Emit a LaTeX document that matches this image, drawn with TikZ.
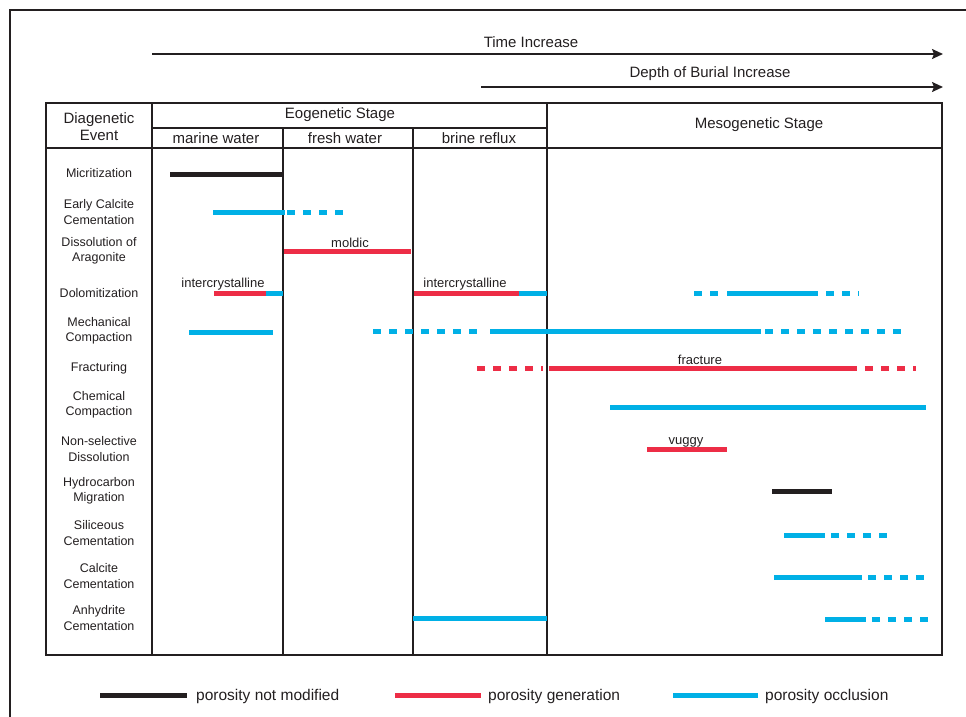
\documentclass[tikz,border=0pt]{standalone}
\usepackage{fontspec}
\setmainfont{Liberation Sans}
\usetikzlibrary{arrows.meta}
\definecolor{ink}{RGB}{35,31,32}
\definecolor{occl}{RGB}{0,176,230}
\definecolor{gener}{RGB}{237,45,70}
\tikzset{
  frame/.style={draw=ink, line width=1.8pt},
  bar/.style={line width=5pt},
  dsh/.style={line width=5pt, dash pattern=on 8pt off 8pt},
  lbl/.style={font=\fontsize{12.5}{15.5}\selectfont, align=center, text=ink, inner sep=0pt},
  hdr/.style={font=\fontsize{15}{17}\selectfont, align=center, text=ink, inner sep=0pt},
  note/.style={font=\fontsize{13}{15}\selectfont, text=ink, inner sep=0pt, anchor=base},
  legtxt/.style={font=\fontsize{15.5}{17}\selectfont, text=ink, inner sep=0pt, anchor=base west},
  trend/.style={draw=ink, line width=1.8pt, -{Stealth[length=11pt,width=10pt,inset=2pt]}},
}
\begin{document}
\begin{tikzpicture}[x=1pt,y=-1pt]
\useasboundingbox (0,0) rectangle (966,717);

% page frame
\draw[frame] (10,717) -- (10,10) -- (966,10);

% trend arrows
\coordinate (t0) at (152,54);  \coordinate (t1) at (943,54);
\coordinate (d0) at (481,87);  \coordinate (d1) at (943,87);
\draw[trend] (t0) -- (t1);
\draw[trend] (d0) -- (d1);
\node[hdr] (time) at (531,42) {Time Increase};
\node[hdr] (depth) at (710,74) {Depth of Burial Increase};

% table grid
\draw[frame] (46,103) rectangle (942,655);
\draw[frame] (46,148) -- (942,148);
\draw[frame] (152,103) -- (152,655);
\draw[frame] (547,103) -- (547,655);
\draw[frame] (152,128) -- (547,128);
\draw[frame] (283,128) -- (283,655);
\draw[frame] (413,128) -- (413,655);

% header texts
\node[hdr] (hev) at (99,127) {Diagenetic\\Event};
\node[hdr] (heo) at (340,115) {Eogenetic Stage};
\node[hdr] (hmar) at (216,138) {marine water};
\node[hdr] (hfre) at (345,138) {fresh water};
\node[hdr] (hbri) at (479,138) {brine reflux};
\node[hdr] (hmes) at (759,125) {Mesogenetic Stage};

% event names
\node[lbl] (r1) at (99,173) {Micritization};
\node[lbl] (r2) at (99,212) {Early Calcite\\Cementation};
\node[lbl] (r3) at (99,251) {Dissolution of\\Aragonite};
\node[lbl] (r4) at (99,293) {Dolomitization};
\node[lbl] (r5) at (99,331) {Mechanical\\Compaction};
\node[lbl] (r6) at (99,368) {Fracturing};
\node[lbl] (r7) at (99,405) {Chemical\\Compaction};
\node[lbl] (r8) at (99,449) {Non-selective\\Dissolution};
\node[lbl] (r9) at (99,491) {Hydrocarbon\\Migration};
\node[lbl] (r10) at (99,533) {Siliceous\\Cementation};
\node[lbl] (r11) at (99,576) {Calcite\\Cementation};
\node[lbl] (r12) at (99,618) {Anhydrite\\Cementation};

% Micritization
\draw[bar, ink] (170,174) -- (283,174);
% Early calcite cementation
\draw[bar, occl] (213,212) -- (285,212);
\draw[dsh, occl] (287,212) -- (343,212);
% Dissolution of aragonite
\draw[bar, gener] (284,251) -- (411,251);
\node[note] (moldic) at (350,247) {moldic};
% Dolomitization
\draw[bar, gener] (214,293) -- (266,293);
\draw[bar, occl] (266,293) -- (283,293);
\node[note] (ic1) at (223,287) {intercrystalline};
\draw[bar, gener] (414,293) -- (519,293);
\draw[bar, occl] (519,293) -- (547,293);
\node[note] (ic2) at (465,287) {intercrystalline};
\draw[dsh, occl] (694,293) -- (719,293);
\draw[bar, occl] (727,293) -- (818,293);
\draw[dsh, occl] (826,293) -- (859,293);
% Mechanical compaction
\draw[bar, occl] (189,332) -- (273,332);
\draw[dsh, occl] (373,331) -- (478,331);
\draw[bar, occl] (490,331) -- (761,331);
\draw[dsh, occl] (765,331) -- (901,331);
% Fracturing
\draw[dsh, gener] (477,368) -- (543,368);
\draw[bar, gener] (549,368) -- (857,368);
\draw[dsh, gener] (865,368) -- (916,368);
\node[note] (frac) at (700,364) {fracture};
% Chemical compaction
\draw[bar, occl] (610,407) -- (926,407);
% Non-selective dissolution
\draw[bar, gener] (647,449) -- (727,449);
\node[note] (vug) at (686,444) {vuggy};
% Hydrocarbon migration
\draw[bar, ink] (772,491) -- (832,491);
% Siliceous cementation
\draw[bar, occl] (784,535) -- (825,535);
\draw[dsh, occl] (831,535) -- (887,535);
% Calcite cementation
\draw[bar, occl] (774,577) -- (862,577);
\draw[dsh, occl] (868,577) -- (924,577);
% Anhydrite cementation
\draw[bar, occl] (413,618) -- (547,618);
\draw[bar, occl] (825,619) -- (866,619);
\draw[dsh, occl] (872,619) -- (928,619);

% legend
\draw[bar, ink] (100,695) -- (187,695);
\node[legtxt] (l1) at (196,700) {porosity not modified};
\draw[bar, gener] (395,695) -- (481,695);
\node[legtxt] (l2) at (488,700) {porosity generation};
\draw[bar, occl] (673,695) -- (758,695);
\node[legtxt] (l3) at (765,700) {porosity occlusion};
\end{tikzpicture}
\end{document}
